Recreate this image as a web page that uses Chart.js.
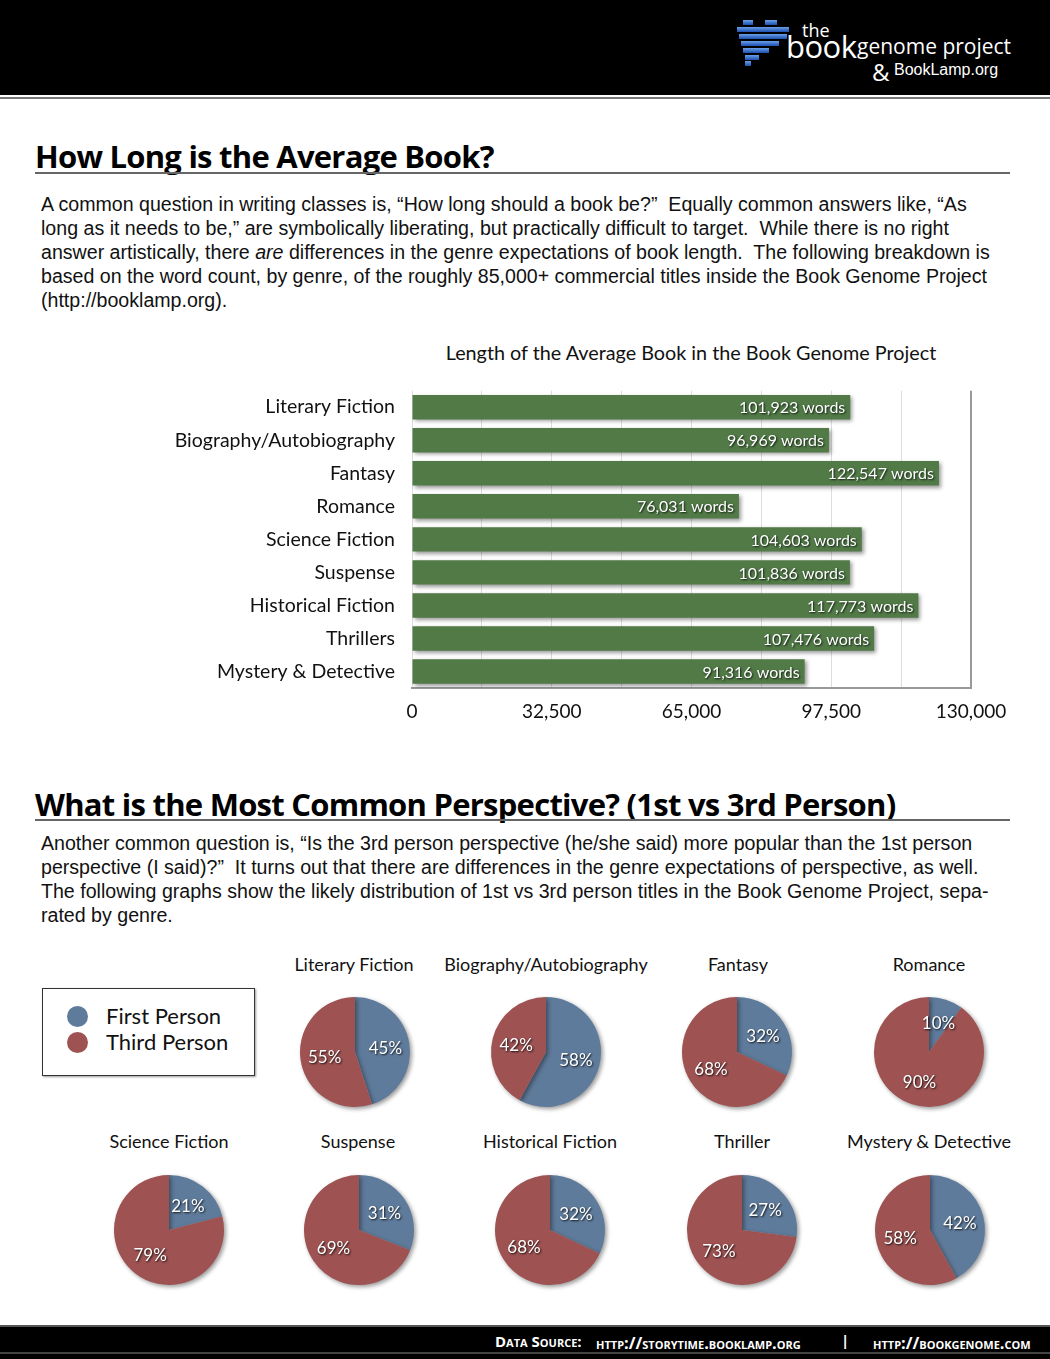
<!DOCTYPE html>
<html>
<head>
<meta charset="utf-8">
<script src="https://cdn.jsdelivr.net/npm/chart.js@4.4.1/dist/chart.umd.min.js"></script>
<style>
  body { margin:0; width:1050px; height:1359px; background:#fff; position:relative; overflow:hidden; font-family:"Liberation Sans", Arial, sans-serif; }
  .abs { position:absolute; }
  #header { left:0; top:0; width:1050px; height:95px; background:#000; border-bottom:2px solid #fff; }
  #hline { left:0; top:97px; width:1050px; height:2px; background:#777; }
  .h1 { font-family:"Open Sans", sans-serif; font-weight:700; font-size:31px; color:#000; left:35px; letter-spacing:-0.75px; white-space:nowrap; }
  .rule { left:35px; width:975px; height:2px; background:#666; }
  .para { left:41px; font-size:19.6px; line-height:24px; color:#111; white-space:nowrap; }
  .gill { font-family:"Lato", sans-serif; color:#111; white-space:nowrap; }
  .ptitle { font-family:"Lato", sans-serif; font-size:18px; color:#111; width:240px; text-align:center; white-space:nowrap; }
  .foot { color:#fff; font-family:"Open Sans", sans-serif; font-weight:700; font-variant:small-caps; white-space:nowrap; }
  canvas { display:block; }
  .logo-b { background:linear-gradient(#6aa0e8,#1d4fb0); height:5px; }
</style>
</head>
<body>
<div id="header" class="abs"></div>
<div id="hline" class="abs"></div>

<!-- logo -->
<div class="abs" style="left:737px;top:20px;width:56px;height:46px;">
  <div class="abs logo-b" style="left:6px;top:0;width:10px;"></div>
  <div class="abs logo-b" style="left:28px;top:0;width:12px;"></div>
  <div class="abs logo-b" style="left:0;top:7px;width:52px;"></div>
  <div class="abs logo-b" style="left:2px;top:14px;width:48px;"></div>
  <div class="abs logo-b" style="left:4px;top:21px;width:38px;"></div>
  <div class="abs logo-b" style="left:6px;top:28px;width:26px;"></div>
  <div class="abs logo-b" style="left:8px;top:35px;width:14px;"></div>
  <div class="abs logo-b" style="left:8px;top:41px;width:6px;"></div>
</div>
<div class="abs" style="left:802px;top:18px;color:#fff;font-family:'Open Sans',sans-serif;font-size:18px;">the</div>
<div class="abs" style="left:786px;top:25px;color:#fff;font-family:'Open Sans',sans-serif;font-size:31px;letter-spacing:-0.5px;">book</div>
<div class="abs" style="left:857px;top:32px;color:#fff;font-family:'Open Sans',sans-serif;font-size:21px;">genome project</div>
<div class="abs" style="left:872px;top:55px;color:#fff;font-family:'Open Sans',sans-serif;font-size:24px;">&amp;</div>
<div class="abs" style="left:894px;top:61px;color:#fff;font-family:'Liberation Sans',sans-serif;font-size:16px;">BookLamp.org</div>

<!-- section 1 -->
<div class="abs h1" style="top:135px;">How Long is the Average Book?</div>
<div class="abs rule" style="top:172px;"></div>
<div class="abs para" style="top:192px;">
A common question in writing classes is, “How long should a book be?”&nbsp; Equally common answers like, “As<br>
long as it needs to be,” are symbolically liberating, but practically difficult to target.&nbsp; While there is no right<br>
answer artistically, there <i>are</i> differences in the genre expectations of book length.&nbsp; The following breakdown is<br>
based on the word count, by genre, of the roughly 85,000+ commercial titles inside the Book Genome Project<br>
(http://booklamp.org).
</div>
<div class="abs gill" style="left:391px;width:600px;text-align:center;top:340px;font-size:19.8px;">Length of the Average Book in the Book Genome Project</div>

<div class="abs" style="left:0;top:370px;width:1050px;height:380px;"><canvas id="barChart"></canvas></div>

<!-- section 2 -->
<div class="abs h1" style="top:783px;">What is the Most Common Perspective? (1st vs 3rd Person)</div>
<div class="abs rule" style="top:819px;"></div>
<div class="abs para" style="top:831px;">
Another common question is, “Is the 3rd person perspective (he/she said) more popular than the 1st person<br>
perspective (I said)?”&nbsp; It turns out that there are differences in the genre expectations of perspective, as well.<br>
The following graphs show the likely distribution of 1st vs 3rd person titles in the Book Genome Project, sepa-<br>
rated by genre.
</div>

<!-- legend -->
<div class="abs" style="left:42px;top:988px;width:211px;height:86px;border:1px solid #333;box-shadow:1px 1px 2px #999;"></div>
<div class="abs" style="left:67px;top:1006px;width:21px;height:21px;border-radius:50%;background:#5f7b9b;"></div>
<div class="abs" style="left:67px;top:1032px;width:21px;height:21px;border-radius:50%;background:#9e5252;"></div>
<div class="abs gill" style="left:106px;top:1002px;font-size:22px;">First Person</div>
<div class="abs gill" style="left:106px;top:1028px;font-size:22px;">Third Person</div>

<div id="pies"></div>

<!-- footer -->
<div class="abs" style="left:0;top:1325px;width:1050px;height:34px;background:#000;border-top:2px solid #555;"></div>
<div class="abs" style="left:0;top:1352px;width:1050px;height:2px;background:#444;"></div>
<div class="abs foot" style="left:495px;top:1331px;font-size:15px;">Data Source:</div>
<div class="abs foot" style="left:596px;top:1331px;font-size:16.4px;">http://storytime.booklamp.org</div>
<div class="abs foot" style="left:841px;top:1330px;font-size:15px;font-variant:normal;">|</div>
<div class="abs foot" style="left:873px;top:1331px;font-size:16.4px;">http://bookgenome.com</div>

<script>
// bar chart data
var genres = ["Literary Fiction", "Biography/Autobiography", "Fantasy", "Romance", "Science Fiction", "Suspense", "Historical Fiction", "Thrillers", "Mystery & Detective"];
var avgWords = [101923, 96969, 122547, 76031, 104603, 101836, 117773, 107476, 91316];
var axisMax = 130000;
var axisStep = 16250;

// pie data (first person share, percent)
var pieGenres = ["Literary Fiction", "Biography/Autobiography", "Fantasy", "Romance", "Science Fiction", "Suspense", "Historical Fiction", "Thriller", "Mystery & Detective"];
var firstPerson = [45, 58, 32, 10, 21, 31, 32, 27, 42];
var thirdPerson = [55, 42, 68, 90, 79, 69, 68, 73, 58];

var blue = "#5f7b9b";
var red = "#9e5252";
var green = "#517a47";

var shadowPlugin = {
  id: "shadow",
  beforeDatasetsDraw: function(chart) {
    var c = chart.ctx;
    c.save();
    c.shadowColor = "rgba(0,0,0,0.4)";
    c.shadowBlur = 4;
    c.shadowOffsetX = 2;
    c.shadowOffsetY = 2;
  },
  afterDatasetsDraw: function(chart) {
    chart.ctx.restore();
  }
};

var barLabels = {
  id: "barLabels",
  afterDatasetsDraw: function(chart) {
    var c = chart.ctx;
    var meta = chart.getDatasetMeta(0);
    c.save();
    c.font = "16px Lato";
    c.fillStyle = "#fff";
    c.textAlign = "right";
    c.textBaseline = "middle";
    c.shadowColor = "rgba(0,0,0,0.8)";
    c.shadowBlur = 2;
    c.shadowOffsetX = 1;
    c.shadowOffsetY = 1;
    meta.data.forEach(function(bar, i) {
      c.fillText(avgWords[i].toLocaleString("en-US") + " words", bar.x - 5, bar.y + 1);
    });
    c.restore();
  }
};

new Chart(document.getElementById("barChart"), {
  type: "bar",
  data: {
    labels: genres,
    datasets: [{ data: avgWords, backgroundColor: green, barPercentage: 0.74, categoryPercentage: 1 }]
  },
  options: {
    indexAxis: "y",
    responsive: true,
    maintainAspectRatio: false,
    animation: false,
    layout: { padding: { top: 5, right: 79, left: 0, bottom: 0 } },
    plugins: { legend: { display: false }, tooltip: { enabled: false } },
    scales: {
      x: {
        min: 0, max: axisMax,
        afterFit: function(s) { s.height = 62; },
        ticks: {
          stepSize: axisStep,
          padding: 12,
          maxRotation: 0,
          autoSkip: false,
          color: "#111",
          font: { family: "Lato", size: 19 },
          callback: function(v) { return (v % (axisStep * 2) === 0) ? v.toLocaleString("en-US") : ""; }
        },
        grid: {
          color: function(ctx) { return ctx.tick && ctx.tick.value === axisMax ? "#999" : "#ddd"; },
          lineWidth: function(ctx) { return ctx.tick && ctx.tick.value === axisMax ? 2 : 1; },
          tickLength: 0
        },
        border: { color: "#999", width: 2 }
      },
      y: {
        afterFit: function(s) { s.width = 412; },
        ticks: { color: "#111", padding: 9, font: { family: "Lato", size: 19.5 } },
        grid: { display: false },
        border: { display: false }
      }
    }
  },
  plugins: [shadowPlugin, barLabels]
});

// pie charts
var pieLabels = {
  id: "pieLabels",
  afterDatasetsDraw: function(chart) {
    var c = chart.ctx;
    var meta = chart.getDatasetMeta(0);
    var vals = chart.data.datasets[0].data;
    c.save();
    c.font = "17px Lato";
    c.fillStyle = "#fff";
    c.textAlign = "center";
    c.textBaseline = "middle";
    c.shadowColor = "rgba(0,0,0,0.85)";
    c.shadowBlur = 2;
    c.shadowOffsetX = 1;
    c.shadowOffsetY = 1;
    meta.data.forEach(function(arc, i) {
      var mid = (arc.startAngle + arc.endAngle) / 2;
      var r = arc.outerRadius * 0.56;
      c.fillText(vals[i] + "%", arc.x + Math.cos(mid) * r, arc.y + Math.sin(mid) * r + 1);
    });
    c.restore();
  }
};

var pieSpots = [
  [355, 1052, 354, 953], [546, 1052, 546, 953], [737, 1052, 738, 953], [929, 1052, 929, 953],
  [169, 1230, 169, 1130], [359, 1230, 358, 1130], [550, 1230, 550, 1130], [742, 1230, 742, 1130], [930, 1230, 929, 1130]
];

var holder = document.getElementById("pies");
pieGenres.forEach(function(name, i) {
  var p = pieSpots[i];
  var t = document.createElement("div");
  t.className = "abs ptitle";
  t.style.left = (p[2] - 120) + "px";
  t.style.top = p[3] + "px";
  t.textContent = name;
  holder.appendChild(t);

  var box = document.createElement("div");
  box.className = "abs";
  box.style.left = (p[0] - 65) + "px";
  box.style.top = (p[1] - 65) + "px";
  box.style.width = "130px";
  box.style.height = "130px";
  var cv = document.createElement("canvas");
  box.appendChild(cv);
  holder.appendChild(box);

  new Chart(cv, {
    type: "pie",
    data: {
      labels: ["First Person", "Third Person"],
      datasets: [{ data: [firstPerson[i], thirdPerson[i]], backgroundColor: [blue, red], borderWidth: 0 }]
    },
    options: {
      responsive: true,
      maintainAspectRatio: false,
      animation: false,
      layout: { padding: 10 },
      plugins: { legend: { display: false }, tooltip: { enabled: false } }
    },
    plugins: [shadowPlugin, pieLabels]
  });
});
</script>
</body>
</html>
